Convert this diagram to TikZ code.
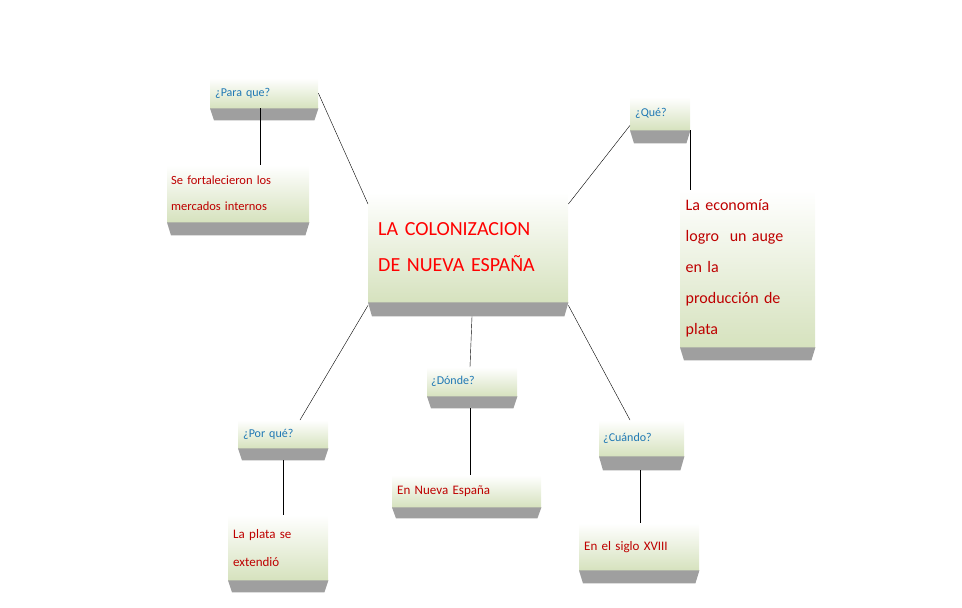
\documentclass[tikz,border=0pt]{standalone}
\usepackage{fontspec}
\setmainfont{Carlito}
\definecolor{boxgreen}{RGB}{214,226,190}
\definecolor{qblue}{RGB}{31,120,180}
\definecolor{ared}{RGB}{190,0,0}
\begin{document}
\begin{tikzpicture}[x=1pt,y=-1pt,
cbox/.style={top color=white, bottom color=boxgreen, inner sep=0pt, anchor=north west, align=left},
qbox/.style={cbox, font=\fontsize{12}{14}\selectfont, text=qblue},
abox/.style={cbox, font=\fontsize{14.5}{30}\selectfont, text=ared},
]
\useasboundingbox (0,0) rectangle (962,608);
%Nodes
\node[cbox, minimum width=200, minimum height=110, text=red, font=\fontsize{20}{36}\selectfont, text width=180] (main) at (368,192) {LA COLONIZACION\\DE NUEVA ESPAÑA};
\node[qbox, minimum width=108, minimum height=30, text width=98] (paraque) at (210,78) {¿Para que?};
\node[abox, minimum width=142, minimum height=57, text width=134, font=\fontsize{12.5}{26}\selectfont] (fortalecieron) at (167,165) {Se fortalecieron los\\mercados internos};
\node[qbox, minimum width=60, minimum height=33, text width=50] (que) at (630,97) {¿Qué?};
\node[abox, minimum width=135, minimum height=157, text width=124, font=\fontsize{16}{31}\selectfont] (economia) at (680,190) {La economía\\logro~ un auge\\en la\\producción de\\plata};
\node[qbox, minimum width=90, minimum height=29, text width=82] (donde) at (427,367) {¿Dónde?};
\node[abox, minimum width=149, minimum height=32, text width=139, font=\fontsize{13}{16}\selectfont] (nuevaespana) at (392,475) {En Nueva España};
\node[qbox, minimum width=90, minimum height=28, text width=80] (porque) at (238,420) {¿Por qué?};
\node[abox, minimum width=100, minimum height=65, text width=90, font=\fontsize{13}{28}\selectfont] (plata) at (228,515) {La plata se\\extendió};
\node[qbox, minimum width=85, minimum height=36, text width=77] (cuando) at (599,420) {¿Cuándo?};
\node[abox, minimum width=120, minimum height=47, text width=110, font=\fontsize{13}{16}\selectfont] (siglo) at (579,523) {En el siglo XVIII};
%Shadows
\foreach \n/\d in {main/14,paraque/12,fortalecieron/13,que/13,economia/13,donde/12,nuevaespana/11,porque/12,plata/12,cuando/14,siglo/13}
  \fill[gray!75] (\n.south west) -- ([shift={(4,\d)}]\n.south west) -- ([shift={(-4,\d)}]\n.south east) -- (\n.south east) -- cycle;
%Lines
\draw ([shift={(0,12)}]main.north west) -- (paraque.north east |- paraque.east);
\draw ([shift={(0,12)}]main.north east) -- ([shift={(0,-5)}]que.south west);
\draw ([xshift=50]paraque.south west) -- ([xshift=93]fortalecieron.north west);
\draw ([xshift=60]que.south west) -- ([xshift=10]economia.north west);
\draw ([shift={(104,14)}]main.south west) -- ([xshift=43]donde.north west);
\draw ([shift={(43,12)}]donde.south west) -- ([xshift=78]nuevaespana.north west);
\draw ([shift={(0,3)}]main.south west) -- ([xshift=62]porque.north west);
\draw[thick] ([shift={(45,12)}]porque.south west) -- ([xshift=55]plata.north west);
\draw ([shift={(0,3)}]main.south east) -- ([xshift=31]cuando.north west);
\draw ([shift={(41,14)}]cuando.south west) -- ([xshift=61]siglo.north west);
\end{tikzpicture}
\end{document}
